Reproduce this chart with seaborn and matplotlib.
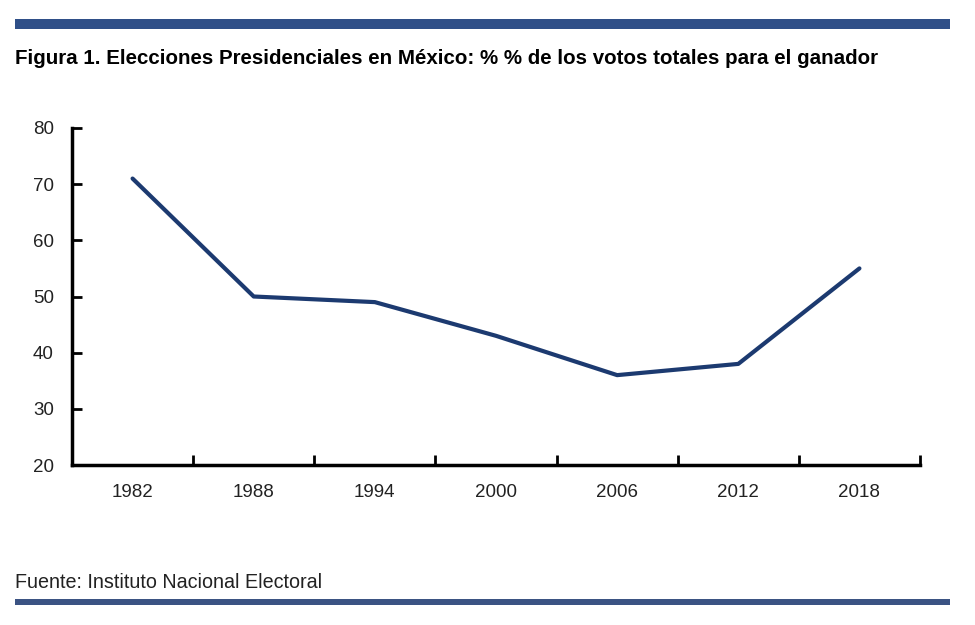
import matplotlib
matplotlib.use("Agg")
import matplotlib.pyplot as plt
import pandas as pd
import seaborn as sns
from matplotlib.patches import Rectangle
from matplotlib.ticker import FixedLocator

# Data
years = ["1982", "1988", "1994", "2000", "2006", "2012", "2018"]
winner_share = [71, 50, 49, 43, 36, 38, 55]

title = "Figura 1. Elecciones Presidenciales en México: % % de los votos totales para el ganador"
source = "Fuente: Instituto Nacional Electoral"

df = pd.DataFrame({"year": years, "share": winner_share})

sns.set_style("white")
plt.rcParams["font.family"] = ["Liberation Sans", "DejaVu Sans"]

fig = plt.figure(figsize=(9.75, 6.25), dpi=100)
ax = fig.add_axes([72 / 975, 1 - 465 / 625, (920 - 72) / 975, (465 - 128) / 625])

sns.lineplot(data=df, x="year", y="share", ax=ax, color="#1c3a70", linewidth=3)

ax.set_xlim(-0.5, len(years) - 0.5)
ax.set_ylim(20, 80)
ax.set_yticks(range(20, 81, 10))
ax.set_xlabel("")
ax.set_ylabel("")

# category axis: labels at centres, tick marks between categories
ax.xaxis.set_minor_locator(FixedLocator([i + 0.5 for i in range(-1, len(years))]))
ax.tick_params(axis="x", which="major", bottom=True, length=0, pad=14,
               labelsize=13.5, colors="#222222")
ax.tick_params(axis="x", which="minor", bottom=True, direction="in", length=7,
               width=2, color="black")
ax.tick_params(axis="y", which="major", left=True, direction="in", length=7, width=2,
               color="black", pad=13, labelsize=13.5, labelcolor="#222222")

for side in ["top", "right"]:
    ax.spines[side].set_visible(False)
for side in ["left", "bottom"]:
    ax.spines[side].set_linewidth(2.5)
    ax.spines[side].set_color("black")

# decorative bands
fig.add_artist(Rectangle((15 / 975, 1 - 29 / 625), 935 / 975, 10 / 625,
                         transform=fig.transFigure, color="#2f4f88", lw=0))
fig.add_artist(Rectangle((15 / 975, 1 - 605 / 625), 935 / 975, 6 / 625,
                         transform=fig.transFigure, color="#3b5383", lw=0))

fig.text(15 / 975, 1 - 59 / 625, title, fontsize=14.8, fontweight="bold",
         va="center", ha="left", color="black")
fig.text(15 / 975, 1 - 583 / 625, source, fontsize=14.2, va="center", ha="left",
         color="#222222")

fig.savefig("out.png", dpi=100)
